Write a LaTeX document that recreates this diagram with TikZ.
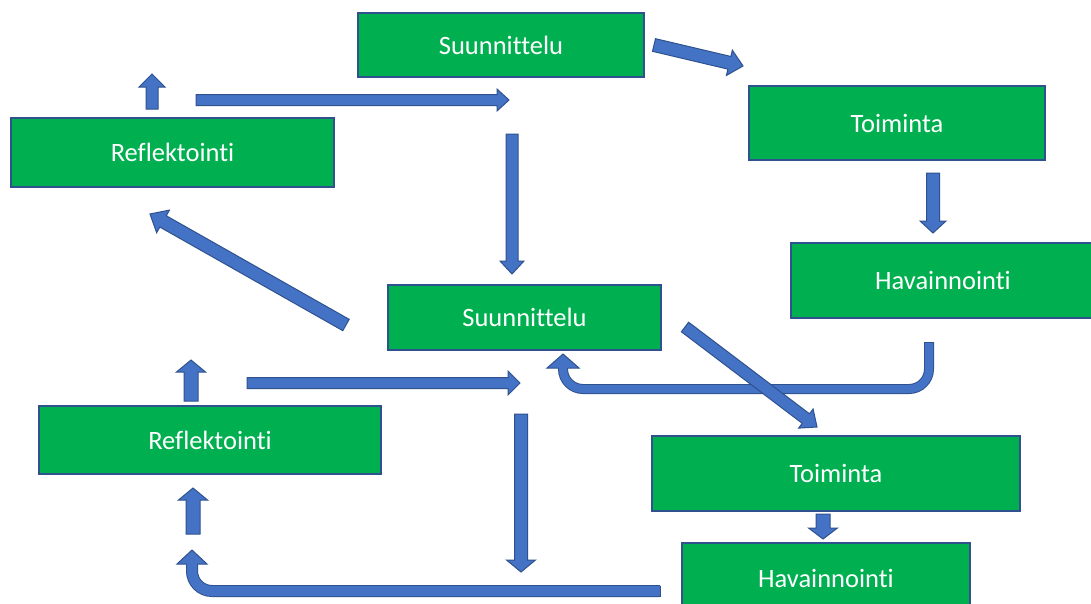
\documentclass[tikz,border=0pt]{standalone}
\usepackage{fontspec}
\setmainfont{Carlito}[Ligatures=NoCommon]
\usetikzlibrary{calc}
\definecolor{boxgreen}{HTML}{00B050}
\definecolor{arrowfill}{HTML}{4472C4}
\definecolor{arrowline}{HTML}{2F528F}
\tikzset{
 stage/.style={draw=arrowline, line width=1.3pt, fill=boxgreen, text=white,
   font=\fontsize{26.5}{30}\selectfont, inner sep=0pt},
 barrow/.style={fill=arrowfill, draw=arrowline, line width=1pt, line join=miter},
 headline/.style={draw=arrowline, line width=1pt, line join=miter},
 bentshaft/.style={draw=arrowline, line width=1pt, double=arrowfill, rounded corners=20pt},
}
% straight block arrow: #1 start, #2 tip, #3 half shaft, #4 half head, #5 head length
\newcommand\blockarrow[5]{%
  \path ($(#2)!#5!(#1)$) coordinate (bh);
  \draw[barrow] ($(#1)!#3!90:(#2)$) -- ($(bh)!#3!90:(#2)$) -- ($(bh)!#4!90:(#2)$)
    -- (#2) -- ($(bh)!#4!-90:(#2)$) -- ($(bh)!#3!-90:(#2)$) -- ($(#1)!#3!-90:(#2)$) -- cycle;
}
% head only: #1 base, #2 tip, #3 half shaft, #4 half head
\newcommand\headonly[4]{%
  \fill[arrowfill] ($(#1)!#3!90:(#2)$) -- ($(#1)!#4!90:(#2)$) -- (#2)
    -- ($(#1)!#4!-90:(#2)$) -- ($(#1)!#3!-90:(#2)$) -- cycle;
  \draw[headline] ($(#1)!#3!90:(#2)$) -- ($(#1)!#4!90:(#2)$) -- (#2)
    -- ($(#1)!#4!-90:(#2)$) -- ($(#1)!#3!-90:(#2)$);
}
\begin{document}
\begin{tikzpicture}[x=1pt,y=-1pt]
\useasboundingbox (0,0) rectangle (1091,603);
\clip (0,0) rectangle (1091,603);
\fill[white] (0,0) rectangle (1091,603);

% boxes
\node[stage, minimum width=286pt, minimum height=64pt] (s1) at (501,45) {Suunnittelu};
\node[stage, minimum width=296pt, minimum height=74pt] (t1) at (897,123) {Toiminta};
\node[stage, minimum width=304pt, minimum height=75pt] (h1) at (943,280.5) {Havainnointi};
\node[stage, minimum width=323pt, minimum height=69pt] (r1) at (172.5,152.5) {Reflektointi};
\node[stage, minimum width=273pt, minimum height=65pt] (s2) at (524.5,317.5) {Suunnittelu};
\node[stage, minimum width=342pt, minimum height=68pt] (r2) at (210,440) {Reflektointi};
\node[stage, minimum width=368pt, minimum height=75pt] (t2) at (836,473.5) {Toiminta};
\node[stage, minimum width=288pt, minimum height=70pt] (h2) at (826,578) {Havainnointi};

% arrow end points
\coordinate (a0) at (152,109);  \coordinate (a1) at (152,74);
\coordinate (b0) at (196,100);  \coordinate (b1) at (509,100);
\coordinate (c0) at (654,45);   \coordinate (c1) at (743,66);
\coordinate (d0) at (933,173);  \coordinate (d1) at (933,233);
\coordinate (e0) at (512,134);  \coordinate (e1) at (512,274);
\coordinate (f0) at (346,325);  \coordinate (f1) at (150,214);
\coordinate (h0) at (685,327);  \coordinate (h1e) at (817,427);
\coordinate (i0) at (191,401);  \coordinate (i1) at (191,360);
\coordinate (j0) at (247,383);  \coordinate (j1) at (520,383);
\coordinate (k0) at (521,414);  \coordinate (k1) at (521,572);
\coordinate (l0) at (193,534);  \coordinate (l1) at (193,488);
\coordinate (n0) at (823,514);  \coordinate (n1) at (823,539);
\coordinate (g0) at (929,342);  \coordinate (g1) at (929,389);
\coordinate (g2) at (563,389);  \coordinate (g3) at (563,368);  \coordinate (g4) at (563,354);
\coordinate (m0) at (660,591);  \coordinate (m1) at (192,591);
\coordinate (m2) at (192,564);  \coordinate (m3) at (192,550);

% bent arrows
\draw[bentshaft, double distance=8pt] (g0) -- (g1) -- (g2) -- (g3);
\draw[headline] ($(g0)+(-4.5,0)$) -- ($(g0)+(4.5,0)$);
\headonly{g3}{g4}{4.5pt}{16pt}
\draw[bentshaft, double distance=10pt] (m0) -- (m1) -- (m2);
\draw[headline] ($(m0)+(0,-5.5)$) -- ($(m0)+(0,5.5)$);
\headonly{m2}{m3}{5.5pt}{15pt}

% straight arrows
\blockarrow{a0}{a1}{6pt}{13pt}{13pt}
\blockarrow{b0}{b1}{5.5pt}{11pt}{12pt}
\blockarrow{c0}{c1}{6.5pt}{13pt}{14pt}
\blockarrow{d0}{d1}{6.5pt}{13pt}{12pt}
\blockarrow{e0}{e1}{6pt}{12pt}{13pt}
\blockarrow{f0}{f1}{6.5pt}{13pt}{15pt}
\blockarrow{h0}{h1e}{6pt}{12pt}{14pt}
\blockarrow{i0}{i1}{7pt}{14.5pt}{12pt}
\blockarrow{j0}{j1}{5.5pt}{12pt}{12pt}
\blockarrow{k0}{k1}{6.5pt}{14.5pt}{12pt}
\blockarrow{l0}{l1}{7pt}{14.5pt}{12pt}
\blockarrow{n0}{n1}{7pt}{14.5pt}{11pt}
\end{tikzpicture}
\end{document}
